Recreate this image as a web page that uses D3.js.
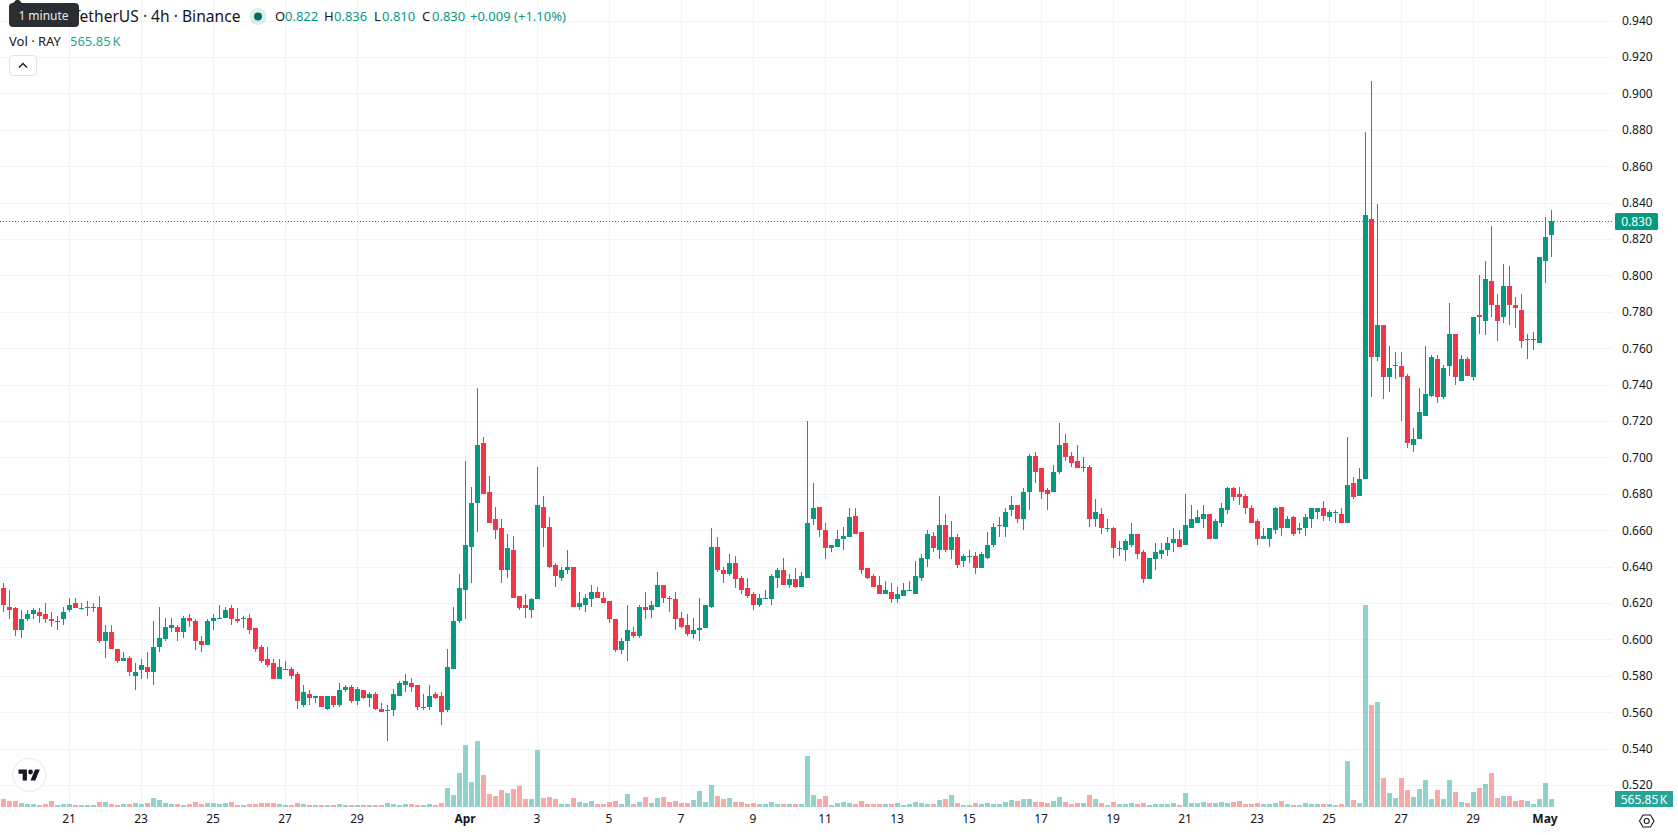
<!DOCTYPE html>
<html>
<head>
<meta charset="utf-8">
<title>RAY / TetherUS 4h</title>
<script src="https://cdn.jsdelivr.net/npm/d3@7"></script>
<style>
html, body { margin: 0; padding: 0; background: #fff; overflow: hidden; }
svg { display: block; font-family: "Noto Sans", sans-serif; }
</style>
</head>
<body>
<svg id="chart" width="1678" height="835"></svg>
<script>
// Four-hour RAY/USDT candles, first bar 19 March 04:00 UTC, last bar 1 May 04:00 UTC.
const opens = [
.628,.618,.617,.605,.611,.614,.615,.614,.611,.610,.611,.616,.620,.617,.618,.618,.618,.599,.604,.595,
.588,.590,.580,.583,.585,.582,.596,.600,.606,.607,.604,.612,.610,.599,.597,.610,.612,.612,.617,.611,
.611,.612,.606,.596,.589,.587,.578,.584,.584,.581,.564,.570,.568,.569,.562,.569,.564,.572,.574,.566,
.572,.568,.570,.562,.561,.561,.569,.575,.576,.575,.563,.563,.570,.569,.561,.584,.610,.627,.651,.675,
.708,.681,.666,.661,.638,.649,.624,.619,.616,.622,.673,.662,.641,.634,.638,.640,.618,.619,.622,.626,
.623,.621,.611,.594,.599,.604,.602,.618,.616,.618,.630,.623,.622,.612,.608,.603,.605,.606,.618,.651,
.638,.636,.642,.634,.628,.625,.619,.622,.622,.634,.638,.630,.633,.629,.634,.666,.673,.660,.650,.651,
.655,.656,.668,.659,.639,.635,.630,.625,.626,.622,.624,.627,.625,.634,.644,.657,.649,.663,.649,.656,
.643,.646,.646,.639,.645,.652,.663,.662,.671,.674,.666,.681,.701,.694,.682,.681,.692,.708,.701,.698,
.695,.695,.666,.669,.661,.661,.650,.649,.652,.658,.648,.633,.644,.647,.649,.653,.655,.652,.661,.664,
.666,.669,.655,.664,.671,.683,.680,.679,.672,.665,.655,.655,.660,.673,.661,.667,.660,.661,.666,.670,
.672,.667,.670,.669,.664,.686,.679,.688,.831,.755,.773,.744,.750,.750,.745,.707,.710,.723,.734,.754,
.733,.750,.768,.742,.754,.744,.778,.775,.797,.784,.777,.794,.784,.781,.765,.765,.763,.808,.822];
const closes = [
.619,.616,.605,.611,.614,.616,.613,.611,.610,.610,.615,.619,.617,.617,.618,.618,.599,.604,.595,.588,
.590,.582,.582,.586,.582,.596,.601,.607,.608,.604,.612,.610,.599,.597,.610,.612,.612,.616,.611,.610,
.612,.605,.595,.588,.586,.578,.585,.584,.580,.566,.571,.568,.569,.563,.569,.564,.572,.574,.566,.573,
.568,.570,.562,.560,.561,.570,.576,.577,.574,.563,.563,.569,.568,.560,.585,.610,.628,.652,.675,.707,
.680,.664,.660,.638,.650,.623,.617,.617,.622,.674,.661,.640,.635,.638,.640,.618,.620,.623,.626,.623,
.620,.611,.594,.599,.605,.602,.618,.616,.619,.630,.623,.622,.611,.607,.603,.605,.606,.619,.651,.638,
.636,.642,.633,.627,.624,.619,.623,.623,.635,.638,.630,.633,.629,.635,.664,.672,.660,.650,.652,.655,
.657,.667,.658,.638,.634,.629,.625,.627,.622,.625,.627,.627,.635,.645,.658,.650,.663,.649,.656,.641,
.646,.646,.639,.647,.652,.662,.663,.670,.674,.666,.681,.701,.692,.681,.680,.692,.707,.700,.697,.694,
.695,.666,.670,.661,.661,.650,.650,.654,.658,.647,.633,.645,.648,.649,.653,.655,.651,.663,.666,.667,
.669,.655,.665,.672,.683,.678,.678,.672,.664,.655,.657,.661,.672,.661,.666,.658,.661,.667,.672,.672,
.668,.670,.670,.664,.685,.678,.688,.833,.755,.773,.744,.749,.751,.744,.708,.710,.725,.735,.755,.733,
.749,.768,.744,.754,.745,.777,.777,.798,.784,.775,.794,.784,.782,.764,.765,.765,.810,.821,.830];
const highs = [
.631,.627,.618,.616,.616,.617,.617,.620,.615,.613,.618,.623,.623,.620,.621,.620,.624,.608,.608,.595,
.593,.591,.587,.589,.593,.610,.618,.612,.612,.608,.613,.614,.611,.602,.611,.614,.619,.618,.619,.617,
.613,.614,.606,.597,.596,.589,.589,.588,.585,.582,.575,.572,.569,.569,.569,.569,.576,.575,.575,.574,
.572,.571,.571,.565,.564,.573,.577,.581,.579,.575,.570,.575,.571,.571,.595,.618,.636,.698,.684,.738,
.711,.690,.673,.666,.658,.657,.624,.625,.623,.695,.679,.667,.642,.640,.649,.640,.626,.625,.630,.629,
.626,.621,.611,.601,.619,.607,.619,.626,.621,.637,.630,.624,.626,.615,.614,.612,.623,.619,.661,.656,
.640,.647,.646,.635,.634,.626,.625,.627,.636,.639,.645,.636,.639,.637,.720,.686,.673,.664,.652,.660,
.662,.672,.672,.659,.639,.636,.635,.632,.631,.629,.631,.632,.643,.647,.660,.659,.679,.669,.665,.658,
.647,.649,.648,.648,.659,.664,.667,.672,.679,.674,.683,.702,.703,.694,.683,.696,.719,.713,.703,.707,
.700,.696,.677,.672,.666,.662,.654,.655,.664,.658,.649,.645,.653,.653,.656,.661,.660,.680,.674,.671,
.674,.669,.666,.675,.684,.684,.684,.680,.674,.666,.661,.661,.673,.673,.668,.668,.664,.669,.672,.672,
.676,.671,.671,.672,.711,.689,.694,.879,.907,.839,.773,.761,.758,.758,.746,.716,.738,.761,.756,.756,
.751,.785,.768,.756,.755,.777,.800,.808,.827,.790,.806,.805,.788,.790,.768,.769,.810,.832,.836];
const lows = [
.615,.611,.602,.601,.610,.611,.609,.609,.607,.605,.608,.615,.617,.616,.613,.615,.598,.590,.595,.587,
.588,.580,.572,.578,.578,.575,.593,.599,.604,.599,.601,.607,.594,.593,.597,.605,.611,.612,.608,.609,
.606,.603,.593,.587,.585,.578,.578,.583,.578,.562,.563,.564,.565,.563,.561,.563,.563,.571,.565,.564,
.567,.563,.561,.560,.544,.558,.569,.571,.571,.561,.561,.561,.567,.553,.560,.584,.609,.611,.631,.659,
.680,.664,.655,.631,.634,.623,.616,.612,.612,.622,.651,.639,.629,.632,.636,.618,.616,.615,.618,.623,
.620,.609,.593,.592,.588,.601,.601,.611,.612,.618,.620,.615,.605,.606,.602,.600,.599,.606,.617,.637,
.631,.635,.628,.625,.623,.616,.618,.622,.619,.628,.630,.628,.628,.629,.634,.663,.656,.644,.648,.651,
.649,.656,.658,.636,.633,.629,.625,.625,.620,.620,.624,.627,.625,.632,.640,.648,.644,.648,.644,.639,
.640,.642,.636,.639,.644,.651,.656,.656,.668,.664,.660,.671,.686,.677,.671,.681,.691,.698,.695,.694,
.692,.662,.662,.658,.659,.645,.646,.643,.651,.644,.631,.633,.638,.644,.646,.648,.651,.652,.661,.664,
.661,.655,.655,.662,.669,.676,.674,.669,.664,.652,.655,.651,.658,.657,.661,.657,.658,.657,.661,.666,
.665,.665,.664,.664,.664,.677,.679,.688,.733,.753,.732,.736,.743,.720,.705,.703,.710,.723,.733,.730,
.732,.745,.740,.742,.745,.742,.768,.767,.777,.764,.774,.773,.771,.760,.754,.759,.763,.796,.810];
// Traded volume per bar, in thousands of RAY.
const volumes = [
566,424,424,283,212,212,141,212,424,141,212,212,141,141,141,141,354,354,212,141,
212,212,283,212,283,636,495,283,212,212,141,212,354,212,283,283,212,283,354,141,
141,212,212,283,283,283,212,141,141,283,212,141,141,141,141,141,212,141,141,141,
141,141,141,141,283,212,141,212,212,141,141,212,141,283,1343,849,2404,4383,1768,4666,
2262,919,778,1202,990,1273,1485,566,566,4030,636,707,566,212,212,636,354,283,424,212,
212,354,424,212,919,212,354,707,283,636,707,354,424,283,283,495,1131,354,1556,778,
566,636,354,354,212,283,212,212,354,212,212,212,212,212,3606,849,566,778,141,283,
354,283,212,424,212,212,212,212,212,283,141,212,354,283,212,212,495,566,849,283,
141,141,283,212,283,212,212,354,495,424,566,566,354,354,283,424,707,354,212,283,
283,849,566,283,141,354,212,212,283,212,283,141,212,212,212,283,141,990,283,283,
354,283,283,354,283,354,424,212,212,283,212,212,283,424,212,141,141,283,212,212,
212,212,141,212,3252,495,283,14281,7211,7423,2050,990,636,2050,1202,707,1273,1909,566,1202,
566,1909,1061,354,283,1061,1343,1626,2404,636,778,778,424,495,424,212,566,1697,565.85];

const priceTicks = [.52,.54,.56,.58,.60,.62,.64,.66,.68,.70,.72,.74,.76,.78,.80,.82,.84,.86,.88,.90,.92,.94];
const timeTickDates = [
  [2,21],[2,23],[2,25],[2,27],[2,29],[3,1],[3,3],[3,5],[3,7],[3,9],[3,11],[3,13],[3,15],[3,17],[3,19],
  [3,21],[3,23],[3,25],[3,27],[3,29],[4,1]
];
const timeTickLabels = ["21","23","25","27","29","Apr","3","5","7","9","11","13","15","17","19","21","23","25","27","29","May"];
const legendOHLC = [["O","0.822",275,285],["H","0.836",324,334],["L","0.810",374,382],["C","0.830",422,432]];

const UP = "#089981", DOWN = "#f23645", INK = "#131722", GRID = "#f1f3f6";
const VOL_UP = "#26a69a", VOL_DOWN = "#ef5350";
const PANE_RIGHT = 1613, PANE_BOTTOM = 807;

const year = 2023, barMs = 4 * 3600 * 1000;
const firstBar = Date.UTC(year, 2, 19, 4);
const bars = opens.map((o, i) => ({
  time: new Date(firstBar + i * barMs),
  open: o, close: closes[i], high: highs[i], low: lows[i], volume: volumes[i],
  rising: closes[i] >= o
}));
const tickTimes = timeTickDates.map(([m, d]) => new Date(Date.UTC(year, m, d)));

const x = d3.scaleUtc().domain([bars[0].time, bars[bars.length - 1].time]).range([3.5, 1551.5]);
const y = d3.scaleLinear().domain([.52, .94]).range([785, 20.6]);
const yVol = d3.scaleLinear().domain([0, 14281]).range([PANE_BOTTOM, 605]);

const svg = d3.select("#chart");
const crisp = v => Math.round(v);

// Grid
const grid = svg.append("g").attr("shape-rendering", "crispEdges").attr("stroke", GRID);
grid.selectAll("line.h").data(priceTicks).join("line").attr("class", "h")
  .attr("x1", 0).attr("x2", PANE_RIGHT)
  .attr("y1", d => crisp(y(d)) + .5).attr("y2", d => crisp(y(d)) + .5);
grid.selectAll("line.v").data(tickTimes).join("line").attr("class", "v")
  .attr("y1", 0).attr("y2", PANE_BOTTOM)
  .attr("x1", d => Math.floor(x(d)) + .5).attr("x2", d => Math.floor(x(d)) + .5);

// Volume histogram
svg.append("g").attr("shape-rendering", "crispEdges").selectAll("rect").data(bars).join("rect")
  .attr("x", d => Math.floor(x(d.time)) - 2).attr("width", 5)
  .attr("y", d => crisp(yVol(d.volume)))
  .attr("height", d => PANE_BOTTOM - crisp(yVol(d.volume)))
  .attr("fill", d => d.rising ? VOL_UP : VOL_DOWN).attr("opacity", .5);

// Candles
const candles = svg.append("g").attr("shape-rendering", "crispEdges")
  .selectAll("g").data(bars).join("g").attr("fill", d => d.rising ? UP : DOWN);
candles.append("rect")
  .attr("x", d => Math.floor(x(d.time))).attr("width", 1)
  .attr("y", d => crisp(y(d.high)))
  .attr("height", d => Math.max(1, crisp(y(d.low)) - crisp(y(d.high))));
candles.append("rect")
  .attr("x", d => Math.floor(x(d.time)) - 2).attr("width", 5)
  .attr("y", d => crisp(y(Math.max(d.open, d.close))))
  .attr("height", d => Math.max(1, crisp(y(Math.min(d.open, d.close))) - crisp(y(Math.max(d.open, d.close)))));

// Last price line
const lastBar = bars[bars.length - 1];
svg.append("line").attr("x1", 0).attr("x2", PANE_RIGHT)
  .attr("y1", crisp(y(lastBar.close)) + .5).attr("y2", crisp(y(lastBar.close)) + .5)
  .attr("stroke", UP).attr("stroke-dasharray", "1 2").attr("shape-rendering", "crispEdges");

// Axes
const yAxis = svg.append("g").attr("transform", "translate(1622,0)")
  .call(d3.axisRight(y).tickValues(priceTicks).tickFormat(d3.format(".3f")).tickSize(0).tickPadding(0));
yAxis.select(".domain").remove();
yAxis.selectAll("text").attr("fill", INK).attr("font-size", 12).attr("font-family", '"Noto Sans", sans-serif');

const xAxis = svg.append("g").attr("transform", "translate(-1,814)")
  .call(d3.axisBottom(x).tickValues(tickTimes).tickFormat((d, i) => timeTickLabels[i]).tickSize(0).tickPadding(0));
xAxis.select(".domain").remove();
xAxis.selectAll("text").attr("fill", INK).attr("font-size", 12).attr("font-family", '"Noto Sans", sans-serif')
  .attr("font-weight", (d, i) => isNaN(+timeTickLabels[i]) ? 700 : 400);

// Price and volume badges on the scale
svg.append("rect").attr("x", 1615).attr("y", crisp(y(lastBar.close)) - 8).attr("width", 43).attr("height", 17)
  .attr("rx", 1.5).attr("fill", UP);
svg.append("text").attr("x", 1636.5).attr("y", crisp(y(lastBar.close)) + 4.5).attr("text-anchor", "middle")
  .attr("fill", "#fff").attr("font-size", 12).text(d3.format(".3f")(lastBar.close));
svg.append("rect").attr("x", 1615).attr("y", 791).attr("width", 58).attr("height", 16).attr("fill", VOL_UP);
svg.append("text").attr("x", 1644).attr("y", 803.5).attr("text-anchor", "middle").attr("word-spacing", -1.5)
  .attr("fill", "#fff").attr("font-size", 12).text(lastBar.volume + " K");

// Settings glyph in the scale corner
svg.append("path").attr("d", "M1639.5 821l3.5-6h7.5l3.5 6-3.5 6h-7.5z")
  .attr("fill", "none").attr("stroke", INK).attr("stroke-width", 1.1);
svg.append("circle").attr("cx", 1646.7).attr("cy", 821).attr("r", 2.5)
  .attr("fill", "none").attr("stroke", INK).attr("stroke-width", 1.1);

// Legend
svg.append("text").attr("x", 72).attr("y", 21.5).attr("font-size", 15.6).attr("fill", INK).text("TetherUS · 4h · Binance");
svg.append("circle").attr("cx", 258).attr("cy", 16.5).attr("r", 8.5).attr("fill", UP).attr("opacity", .15);
svg.append("circle").attr("cx", 258).attr("cy", 16.5).attr("r", 4).attr("fill", "#0a6b5c");
legendOHLC.forEach(([k, v, kx, vx]) => {
  svg.append("text").attr("x", kx).attr("y", 21).attr("font-size", 13).attr("fill", INK).text(k);
  svg.append("text").attr("x", vx).attr("y", 21).attr("font-size", 13).attr("fill", UP).text(v);
});
svg.append("text").attr("x", 470).attr("y", 21).attr("font-size", 13).attr("fill", UP).text("+0.009 (+1.10%)");
svg.append("text").attr("x", 9).attr("y", 46).attr("font-size", 13).attr("fill", INK).text("Vol · RAY");
svg.append("text").attr("x", 70).attr("y", 46).attr("font-size", 13).attr("word-spacing", -1.5).attr("fill", VOL_UP).text(lastBar.volume + " K");

// Collapse button
svg.append("rect").attr("x", 9.5).attr("y", 55.5).attr("width", 27).attr("height", 20).attr("rx", 3.5)
  .attr("fill", "#fff").attr("stroke", "#e0e3eb");
svg.append("path").attr("d", "M19 67.5l4-4 4 4").attr("fill", "none").attr("stroke", INK).attr("stroke-width", 1.4);

// Countdown tooltip
svg.append("path").attr("d", "M13 3l3-3h3l3 3h53a4 4 0 0 1 4 4v16a4 4 0 0 1-4 4H13a4 4 0 0 1-4-4V7a4 4 0 0 1 4-4z")
  .attr("fill", "#2a2e33");
svg.append("text").attr("x", 43.5).attr("y", 20).attr("text-anchor", "middle").attr("font-size", 12)
  .attr("fill", "#e8e8e8").text("1 minute");

// Attribution mark
const mark = svg.append("g").attr("transform", "translate(29.3,775)");
mark.append("circle").attr("r", 16.5).attr("fill", "#fff").attr("stroke", "#ececec").attr("stroke-width", 1.2);
const logo = mark.append("g").attr("transform", "translate(-10.8,-7.8) scale(.6)").attr("fill", "#131722");
logo.append("path").attr("d", "M14 22H7V11H0V4h14v18zM28 22h-8l7.5-18h8L28 22z");
logo.append("circle").attr("cx", 20).attr("cy", 8).attr("r", 4);
</script>
</body>
</html>
